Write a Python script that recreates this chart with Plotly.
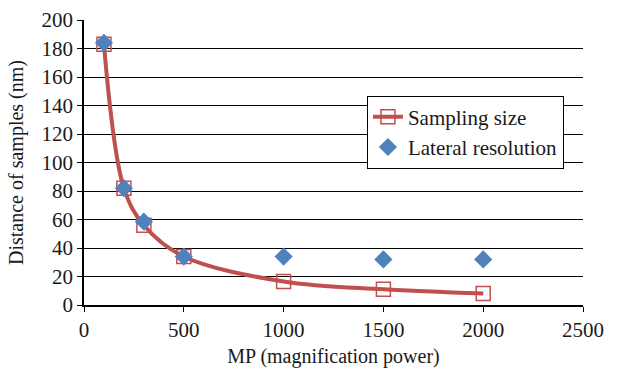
import plotly.graph_objects as go

mp = [100, 200, 300, 500, 1000, 1500, 2000]
sampling_size = [183, 82, 56, 34, 16.5, 11, 8]
lateral_resolution = [184, 82, 58.5, 34, 34, 32, 32]

red = "#c0504d"
blue = "#4f81bd"
font = "Liberation Serif"

fig = go.Figure()
fig.add_trace(go.Scatter(
    x=mp, y=sampling_size, name="Sampling size",
    mode="lines+markers",
    line=dict(color=red, width=4, shape="spline", smoothing=1.0),
    marker=dict(symbol="square-open", size=14, color=red, line=dict(width=1.5, color=red)),
))
fig.add_trace(go.Scatter(
    x=mp, y=lateral_resolution, name="Lateral resolution",
    mode="markers",
    marker=dict(symbol="diamond", size=14, color=blue),
))

fig.update_layout(
    width=634, height=370,
    margin=dict(l=84, r=51, t=20, b=65),
    paper_bgcolor="white", plot_bgcolor="white",
    font=dict(family=font, size=21, color="#1a1a1a"),
    showlegend=True,
    legend=dict(
        x=0.567, y=0.735, xanchor="left", yanchor="top",
        bordercolor="black", borderwidth=1, bgcolor="white",
        font=dict(family=font, size=21, color="#1a1a1a"),
        tracegroupgap=0,
    ),
    xaxis=dict(
        range=[0, 2500], tickvals=[0, 500, 1000, 1500, 2000, 2500],
        showgrid=False, zeroline=False, automargin=False,
        showline=True, linecolor="black", linewidth=1.5,
        ticks="outside", tickcolor="black", ticklen=5,
        tickfont=dict(size=21),
        title=dict(text="MP (magnification power)", font=dict(size=20), standoff=8),
    ),
    yaxis=dict(
        range=[0, 200], tickvals=list(range(0, 201, 20)),
        showgrid=True, gridcolor="black", gridwidth=1, zeroline=False, automargin=False,
        showline=True, linecolor="black", linewidth=1.5,
        ticks="outside", tickcolor="black", ticklen=5,
        tickfont=dict(size=21),
        title=dict(text="Distance of samples (nm)", font=dict(size=20), standoff=13),
    ),
)

fig.write_html("out.html")
